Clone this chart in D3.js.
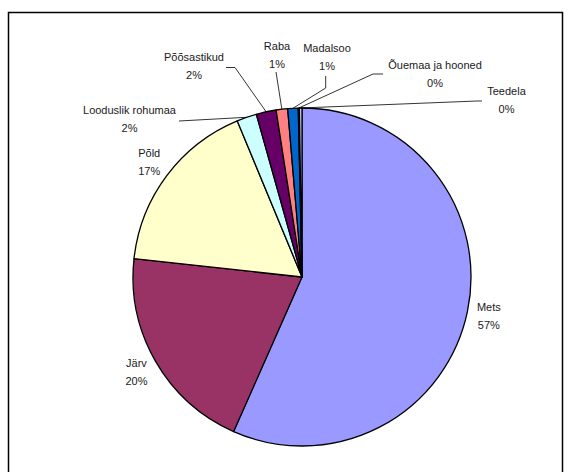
<!DOCTYPE html>
<html>
<head>
<meta charset="utf-8">
<script src="https://cdn.jsdelivr.net/npm/d3@7/dist/d3.min.js"></script>
<style>
  body { margin: 0; background: #fff; }
  svg { display: block; font-family: "Liberation Sans", Arial, sans-serif; }
</style>
</head>
<body>
<svg id="chart" width="571" height="472"></svg>
<script>
// ==============================
// DATA
// ==============================
const categories = ["Mets", "Järv", "Põld", "Looduslik rohumaa", "Põõsastikud", "Raba", "Madalsoo", "Õuemaa ja hooned", "Teedela"];
const values = [56.6, 20.1, 17.0, 1.9, 1.9, 1.1, 1.0, 0.1, 0.25];
const colors = ["#9999FF", "#993366", "#FFFFCC", "#CCFFFF", "#660066", "#FF8080", "#0066CC", "#000080", "#CCCCFF"];

// ==============================
// LAYOUT
// ==============================
const cx = 302, cy = 277, radius = 169;
const labelRadius = 191;
const lineGap = 18;

// small slices: labels moved by hand, with leader lines (label centre, leader elbow points)
const manualLabels = {
  "Looduslik rohumaa": { x: 129.5, y: 119, leader: [[179, 121]] },
  "Põõsastikud":       { x: 194,   y: 66,  leader: [[226, 67.5], [235, 67.5]] },
  "Raba":              { x: 277,   y: 55,  leader: [[276, 72]] },
  "Madalsoo":          { x: 327,   y: 57,  leader: [[325.7, 76], [325.7, 88]] },
  "Õuemaa ja hooned":  { x: 435,   y: 74,  leader: [[383, 74], [373, 74]] },
  "Teedela":           { x: 506.5, y: 100.5, leader: [[482, 101], [477, 101]] }
};

const svg = d3.select("#chart");

// frame
svg.append("rect")
  .attr("x", 8.5).attr("y", 12.5)
  .attr("width", 554).attr("height", 470)
  .attr("fill", "none")
  .attr("stroke", "#000")
  .attr("stroke-width", 1.5);

const data = categories.map((c, i) => ({ name: c, value: values[i], color: colors[i] }));
const total = d3.sum(values);

const pie = d3.pie().sort(null).value(d => d.value);
const arcs = pie(data);

const arc = d3.arc().innerRadius(0).outerRadius(radius);
const edgeArc = d3.arc().innerRadius(radius).outerRadius(radius);
const labelArc = d3.arc().innerRadius(labelRadius).outerRadius(labelRadius);

const g = svg.append("g").attr("transform", `translate(${cx},${cy})`);

g.selectAll("path.slice")
  .data(arcs)
  .enter()
  .append("path")
  .attr("class", "slice")
  .attr("d", arc)
  .attr("fill", d => d.data.color)
  .attr("stroke", "#000")
  .attr("stroke-width", 1.3)
  .attr("stroke-linejoin", "round");

// ==============================
// LABELS
// ==============================
const labels = svg.append("g")
  .attr("font-size", "11px")
  .attr("fill", "#1a1a1a")
  .attr("text-anchor", "middle");

arcs.forEach(d => {
  const pct = Math.round(d.data.value / total * 100) + "%";
  const m = manualLabels[d.data.name];
  let lx, ly;
  if (m) {
    lx = m.x; ly = m.y;
    const end = edgeArc.centroid(d);
    const pts = m.leader.concat([[end[0] + cx, end[1] + cy]]);
    svg.append("path")
      .attr("d", d3.line()(pts))
      .attr("fill", "none")
      .attr("stroke", "#000")
      .attr("stroke-width", 0.8);
  } else {
    const c = labelArc.centroid(d);
    lx = c[0] + cx; ly = c[1] + cy;
  }
  const t = labels.append("text").attr("x", lx).attr("y", ly - lineGap / 2);
  t.append("tspan").attr("x", lx).attr("dy", "0.35em").text(d.data.name);
  t.append("tspan").attr("x", lx).attr("dy", lineGap).text(pct);
});
</script>
</body>
</html>
